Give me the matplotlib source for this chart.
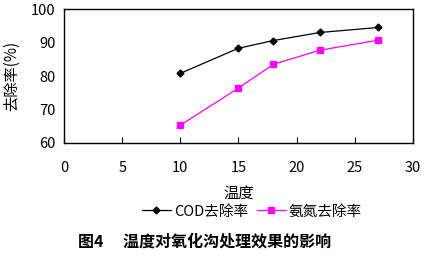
import matplotlib
matplotlib.use('Agg')
import matplotlib.pyplot as plt

plt.rcParams['font.family'] = ['Noto Sans CJK SC', 'DejaVu Sans']

temp = [10, 15, 18, 22, 27]
cod = [80.8, 88.3, 90.6, 93.0, 94.5]
nh = [65.3, 76.4, 83.5, 87.7, 90.7]
xticks = [0, 5, 10, 15, 20, 25, 30]
yticks = [60, 70, 80, 90, 100]

fig = plt.figure(figsize=(4.27, 2.59), dpi=100)
ax = fig.add_axes([0.150, 0.448, 0.817, 0.517])

ax.plot(temp, cod, color='black', lw=0.9, marker='D', ms=3.5, label='COD去除率')
ax.plot(temp, nh, color='#ff00ff', lw=0.9, marker='s', ms=4, label='氨氮去除率')

ax.set_xlim(0, 30)
ax.set_ylim(60, 100)
ax.set_xticks(xticks)
ax.set_yticks(yticks)
ax.tick_params(axis='x', direction='in', length=4, pad=13, labelsize=10.5)
ax.tick_params(axis='y', length=0, pad=6, labelsize=10.5)
for s in ax.spines.values():
    s.set_linewidth(1.0)

ax.set_xlabel('温度', fontsize=11, labelpad=7)
ax.set_ylabel('去除率(%)', fontsize=11, labelpad=8)

fig.legend(loc='center', bbox_to_anchor=(0.59, 0.183), ncol=2, frameon=False,
           fontsize=10.5, handlelength=2.0, handletextpad=0.2, columnspacing=0.6)

fig.text(0.48, 0.068, '图4　 温度对氧化沟处理效果的影响', ha='center', va='center',
         fontsize=11.5, fontweight='bold')

fig.savefig('out.png', dpi=100)
